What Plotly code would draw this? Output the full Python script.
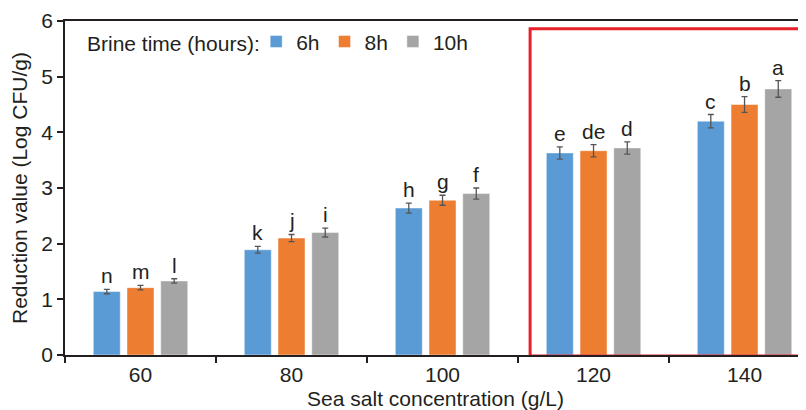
import plotly.graph_objects as go

categories = ["60", "80", "100", "120", "140"]
series_names = ["6h", "8h", "10h"]
values_6h = [1.14, 1.89, 2.64, 3.63, 4.20]
values_8h = [1.21, 2.10, 2.78, 3.67, 4.50]
values_10h = [1.33, 2.20, 2.90, 3.72, 4.78]
err_6h = [0.04, 0.06, 0.09, 0.11, 0.12]
err_8h = [0.04, 0.065, 0.09, 0.11, 0.14]
err_10h = [0.04, 0.08, 0.10, 0.11, 0.15]
letters_6h = ["n", "k", "h", "e", "c"]
letters_8h = ["m", "j", "g", "de", "b"]
letters_10h = ["l", "i", "f", "d", "a"]
colors = ["#5B9BD5", "#ED7D31", "#A5A5A5"]
legend_title = "Brine time (hours):"

values = [values_6h, values_8h, values_10h]
errors = [err_6h, err_8h, err_10h]
letters = [letters_6h, letters_8h, letters_10h]

FONT = "Liberation Sans, Arial, sans-serif"
TXT = "#231f20"
FS = 21

fig = go.Figure()
for i, name in enumerate(series_names):
    fig.add_trace(go.Bar(
        x=categories, y=values[i], name=name,
        marker=dict(color=colors[i], line=dict(color="rgba(255,255,255,0.45)", width=1)),
        error_y=dict(type="data", array=errors[i], color="#555555", thickness=1.3, width=3),
    ))

slot = 33.7
for i in range(3):
    for j, c in enumerate(categories):
        fig.add_annotation(
            x=j, y=values[i][j] + errors[i][j], text=letters[i][j],
            showarrow=False, xanchor="center", yanchor="bottom",
            xshift=(i - 1) * slot, yshift=0,
            font=dict(family=FONT, size=FS, color=TXT),
        )

# legend title
fig.add_annotation(
    xref="paper", yref="paper", x=0.027, y=0.934, xanchor="left", yanchor="middle",
    text=legend_title, showarrow=False, font=dict(family=FONT, size=FS, color=TXT),
)

# highlight box around the two highest concentrations
fig.add_shape(type="rect", xref="x", yref="y", x0=2.58, x1=5.2, y0=-0.02, y1=5.86,
              line=dict(color="#E8202A", width=3), fillcolor="rgba(0,0,0,0)", layer="above")

fig.update_layout(
    width=798, height=402,
    margin=dict(l=57, r=0, t=13, b=55, autoexpand=False),
    paper_bgcolor="white", plot_bgcolor="white",
    barmode="group", bargap=0.33, bargroupgap=0.2,
    font=dict(family=FONT, size=FS, color=TXT),
    showlegend=True,
    legend=dict(
        orientation="h", x=0.258, y=0.999, xanchor="left", yanchor="top",
        font=dict(size=FS, color=TXT), bgcolor="rgba(0,0,0,0)",
        itemwidth=30, tracegroupgap=0,
    ),
    xaxis=dict(
        type="category", range=[-0.5, 4.407], automargin=False,
        showline=True, linecolor="#231f20", linewidth=1.5, mirror=True,
        ticks="outside", tickson="boundaries", ticklen=6, tickcolor="#231f20", tickwidth=1.5,
        tickfont=dict(size=FS, color=TXT),
        title=dict(text="Sea salt concentration (g/L)", font=dict(size=FS, color=TXT), standoff=9),
        showgrid=False, zeroline=False,
    ),
    yaxis=dict(
        range=[0, 6], dtick=1, automargin=False,
        showline=True, linecolor="#231f20", linewidth=1.5,
        ticks="outside", ticklen=6, tickcolor="#231f20", tickwidth=1.5,
        tickfont=dict(size=FS, color=TXT),
        title=dict(text="Reduction value (Log CFU/g)", font=dict(size=FS, color=TXT), standoff=8),
        showgrid=False, zeroline=False,
    ),
)

fig.write_html("out.html")
